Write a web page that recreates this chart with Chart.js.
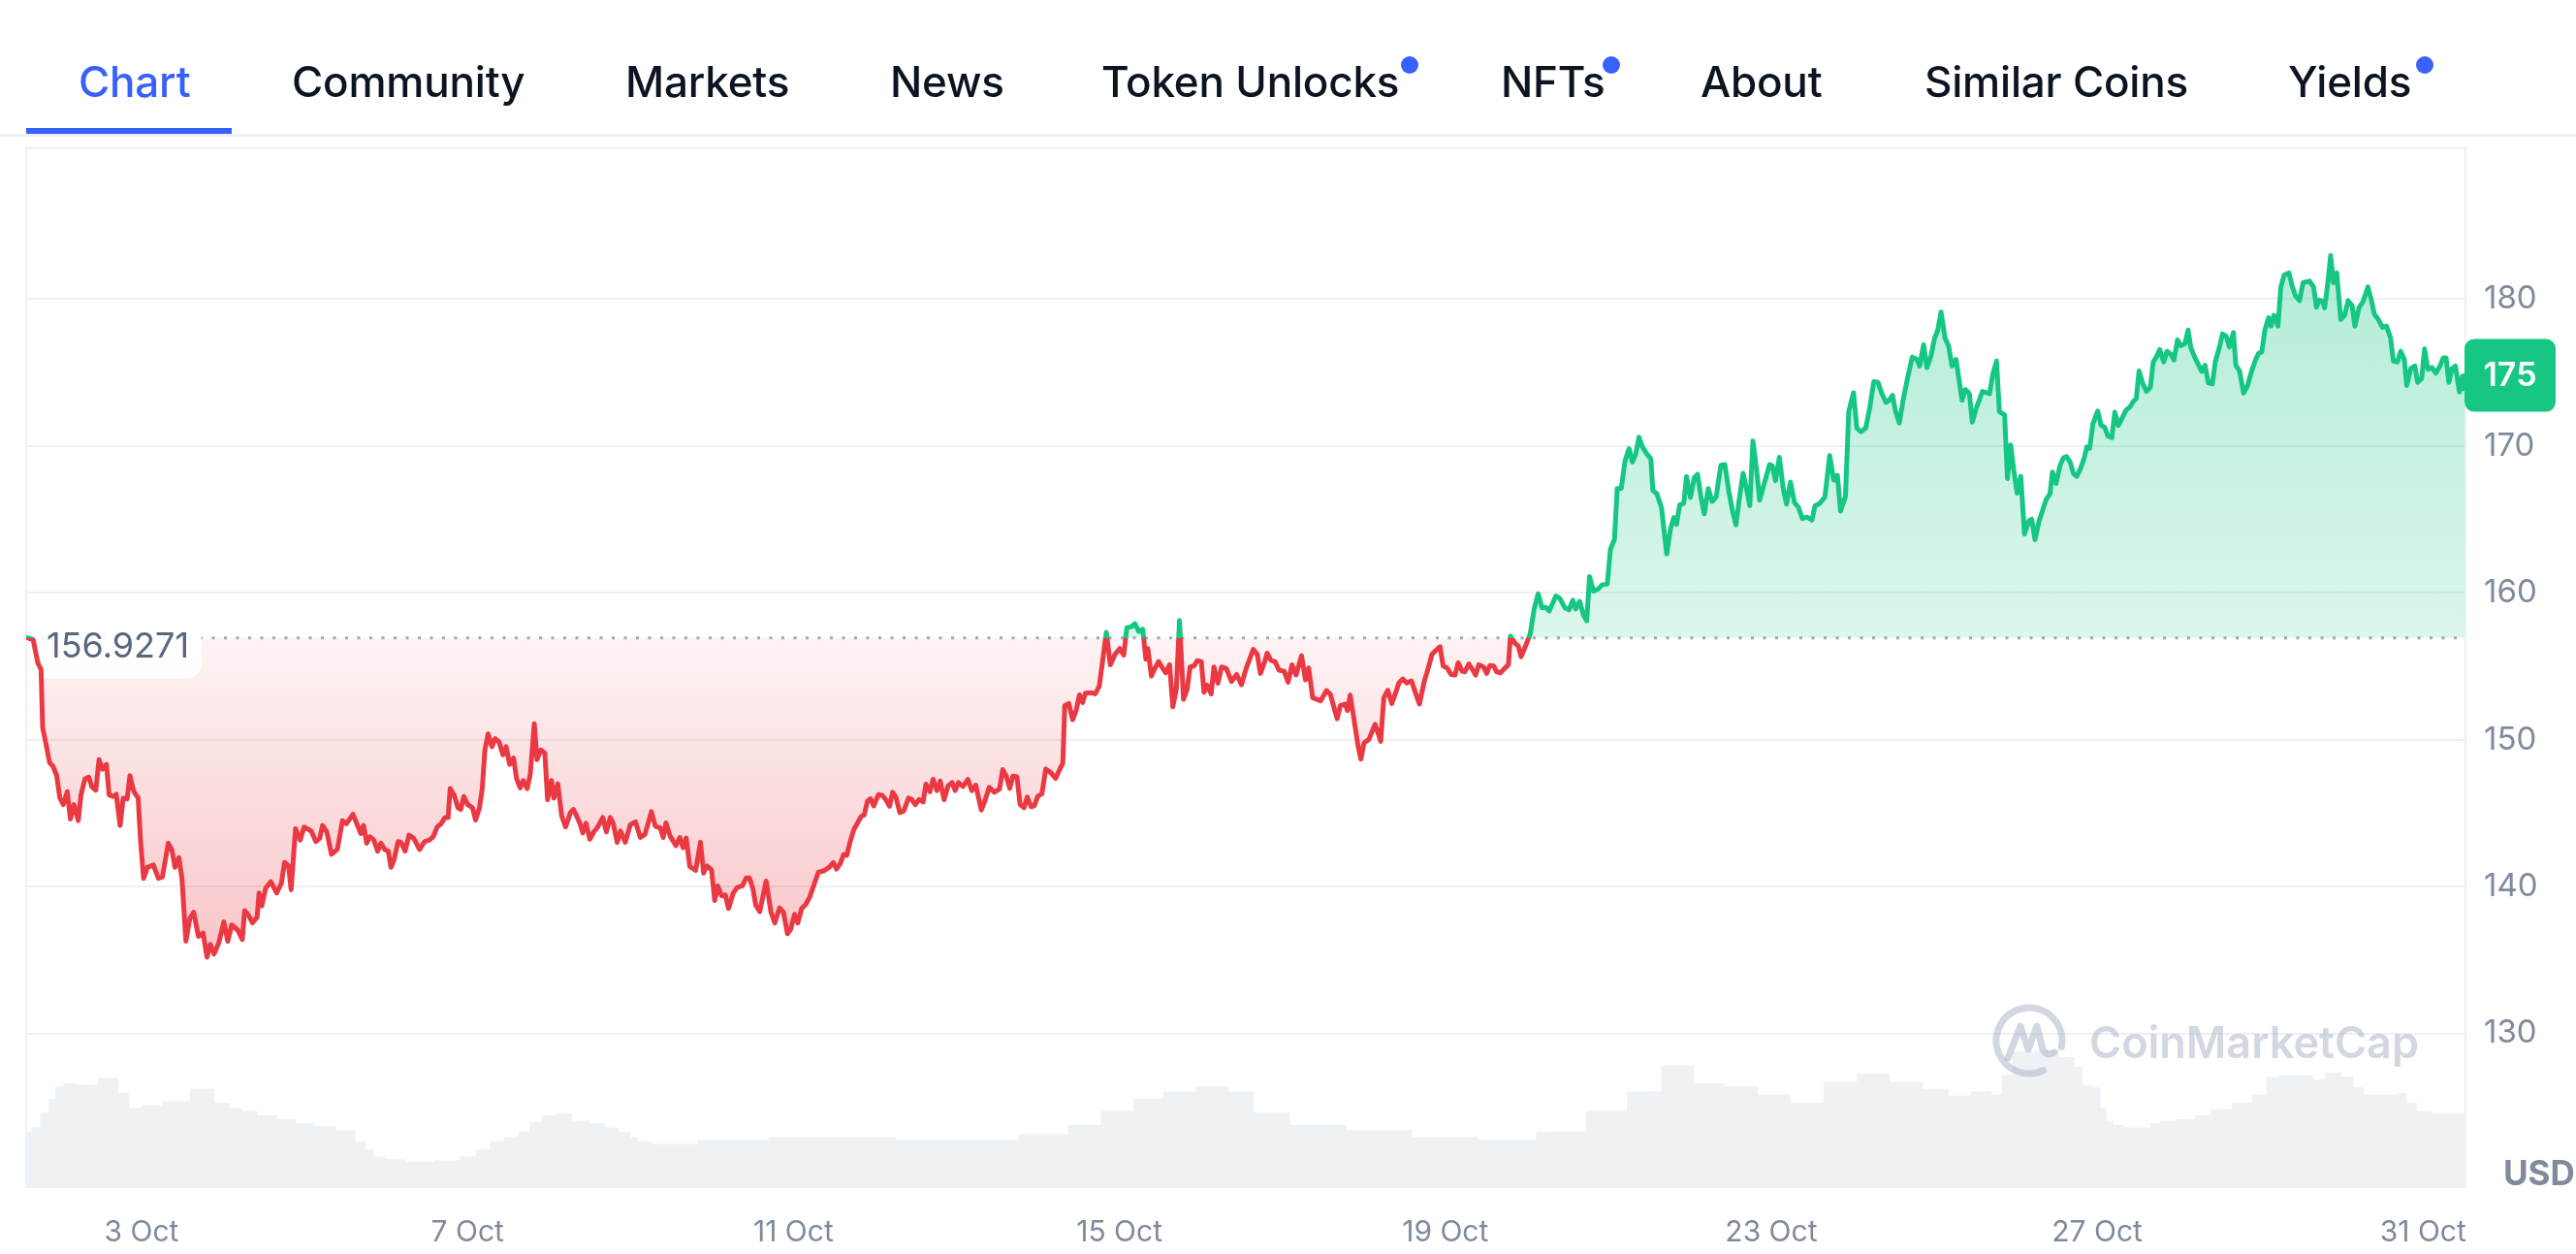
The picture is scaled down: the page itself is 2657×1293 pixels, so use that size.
<!DOCTYPE html>
<html>
<head>
<meta charset="utf-8">
<script src="https://cdn.jsdelivr.net/npm/chart.js@4.4.1/dist/chart.umd.min.js"></script>
<style>
  html, body { margin: 0; padding: 0; background: #fff; }
  body { width: 2657px; height: 1293px; position: relative; overflow: hidden; font-family: Inter, 'Noto Sans', sans-serif; }
  #priceChart { position: absolute; left: 0; top: 0; }
  .tab { position: absolute; top: 62px; font-size: 44px; line-height: 44px; font-weight: 500; color: #0d1421; white-space: nowrap; letter-spacing: -0.2px; }
  .tab.active { color: #3861fb; }
  .dot { position: absolute; top: 58px; width: 18px; height: 18px; border-radius: 50%; background: #3861fb; }
  .underline { position: absolute; left: 27px; top: 132px; width: 212px; height: 6px; background: #3861fb; }
  .tabline { position: absolute; left: 0; top: 138px; width: 2657px; height: 3px; background: #eff2f5; }
</style>
</head>
<body>
<canvas id="priceChart" width="2657" height="1293"></canvas>
<div class="tabline"></div>
<div class="underline"></div>
<span class="tab active" style="left:81px">Chart</span>
<span class="tab" style="left:301px">Community</span>
<span class="tab" style="left:645px">Markets</span>
<span class="tab" style="left:918px">News</span>
<span class="tab" style="left:1136px">Token Unlocks</span>
<span class="dot" style="left:1445px"></span>
<span class="tab" style="left:1548px">NFTs</span>
<span class="dot" style="left:1653px"></span>
<span class="tab" style="left:1754px">About</span>
<span class="tab" style="left:1985px">Similar Coins</span>
<span class="tab" style="left:2360px">Yields</span>
<span class="dot" style="left:2492px"></span>

<script>
// ===== DATA =====
var BASELINE = 156.9271;
var xTickDays = [3, 7, 11, 15, 19, 23, 27, 31];
var yTickValues = [130, 140, 150, 160, 170, 180];

// price line (day of October, USD)
var priceDays = [
  1.600, 1.670, 1.728, 1.767, 1.786, 1.834, 1.872, 1.911, 1.959, 1.997, 2.040, 2.088, 2.127, 2.170, 2.223, 2.257, 2.305, 2.353, 2.391, 2.439,
  2.478, 2.521, 2.569, 2.602, 2.650, 2.689, 2.737, 2.775, 2.823, 2.857, 2.905, 2.958, 2.987, 3.025, 3.073, 3.145, 3.208, 3.256, 3.328, 3.371,
  3.410, 3.458, 3.496, 3.544, 3.592, 3.640, 3.698, 3.755, 3.803, 3.842, 3.890, 3.948, 4.010, 4.058, 4.106, 4.178, 4.236, 4.265, 4.313, 4.361,
  4.418, 4.442, 4.476, 4.524, 4.587, 4.659, 4.716, 4.755, 4.803, 4.836, 4.889, 4.947, 4.995, 5.081, 5.139, 5.187, 5.221, 5.273, 5.331, 5.403,
  5.466, 5.514, 5.595, 5.658, 5.691, 5.725, 5.763, 5.802, 5.850, 5.898, 5.936, 5.984, 6.028, 6.061, 6.100, 6.148, 6.186, 6.234, 6.282, 6.340,
  6.412, 6.474, 6.532, 6.580, 6.628, 6.676, 6.724, 6.763, 6.787, 6.835, 6.883, 6.917, 6.955, 7.003, 7.061, 7.099, 7.147, 7.181, 7.214, 7.253,
  7.301, 7.339, 7.387, 7.435, 7.474, 7.517, 7.565, 7.603, 7.647, 7.685, 7.733, 7.771, 7.820, 7.853, 7.901, 7.949, 7.983, 8.031, 8.060, 8.108,
  8.156, 8.204, 8.262, 8.300, 8.348, 8.382, 8.415, 8.454, 8.502, 8.550, 8.598, 8.660, 8.704, 8.752, 8.790, 8.838,
  8.878, 8.936, 8.999, 9.062, 9.121, 9.179, 9.257, 9.305, 9.364, 9.402, 9.436, 9.485, 9.558, 9.606, 9.645, 9.684, 9.728, 9.800, 9.859, 9.898,
  9.936, 9.995, 10.034, 10.072, 10.116, 10.165, 10.203, 10.262, 10.310, 10.373, 10.422, 10.461, 10.504, 10.538, 10.587, 10.665, 10.723, 10.771, 10.830, 10.878,
  10.927, 10.966, 11.014, 11.053, 11.102, 11.150, 11.199, 11.247, 11.306, 11.378, 11.441, 11.490, 11.529, 11.577, 11.616, 11.655, 11.694, 11.742, 11.791, 11.830,
  11.869, 11.908, 11.946, 11.985, 12.044, 12.092, 12.131, 12.180, 12.218, 12.257, 12.306, 12.354, 12.412, 12.451, 12.495, 12.544, 12.592, 12.626, 12.675, 12.714,
  12.762, 12.801, 12.849, 12.898, 12.947, 12.985, 13.024, 13.082, 13.141, 13.189, 13.238, 13.306, 13.345, 13.403, 13.466, 13.529, 13.568, 13.612, 13.655, 13.694,
  13.743, 13.782, 13.830, 13.869, 13.917, 13.956, 14.000, 14.049, 14.097, 14.160, 14.218, 14.267, 14.306, 14.330, 14.379, 14.427, 14.471, 14.510, 14.549, 14.583,
  14.656, 14.704, 14.753, 14.792, 14.840, 14.889, 14.947, 15.005, 15.054, 15.092, 15.141, 15.190, 15.238, 15.287, 15.325, 15.350, 15.393, 15.432, 15.481, 15.529,
  15.568, 15.617, 15.656, 15.699, 15.738, 15.787, 15.830, 15.869, 15.918, 15.957, 16.005, 16.039, 16.078, 16.127, 16.161, 16.209,
  16.255, 16.313, 16.376, 16.439, 16.498, 16.556, 16.643, 16.692, 16.731, 16.779, 16.813, 16.862, 16.910, 16.959, 17.022, 17.071, 17.119, 17.168, 17.236, 17.284,
  17.323, 17.372, 17.420, 17.469, 17.542, 17.590, 17.639, 17.673, 17.712, 17.770, 17.799, 17.833, 17.881, 17.930, 17.964, 18.003, 18.061, 18.139, 18.207, 18.246,
  18.294, 18.343, 18.391, 18.430, 18.479, 18.527, 18.585, 18.634, 18.683, 18.741, 18.789, 18.838, 18.877, 18.935, 18.974, 19.022, 19.071, 19.119, 19.158, 19.207,
  19.241, 19.289, 19.338, 19.372, 19.411, 19.469, 19.508, 19.547, 19.595, 19.629, 19.678, 19.726, 19.775, 19.799, 19.857, 19.896, 19.930, 19.984, 20.042, 20.091,
  20.139, 20.188, 20.236, 20.275, 20.357, 20.406, 20.469, 20.518, 20.566, 20.600, 20.649, 20.697, 20.736, 20.770, 20.819, 20.877, 20.926, 20.988, 21.027, 21.076,
  21.110, 21.159, 21.207, 21.256, 21.295, 21.334, 21.377, 21.416, 21.474, 21.523, 21.547, 21.596, 21.654, 21.717, 21.766, 21.804, 21.838, 21.877, 21.926, 21.960,
  22.008, 22.057, 22.096, 22.139, 22.178, 22.227, 22.275, 22.324, 22.382, 22.431, 22.479, 22.528, 22.567, 22.605, 22.654, 22.703, 22.737, 22.775, 22.819, 22.858,
  22.916, 22.979, 23.013, 23.052, 23.100, 23.149, 23.188, 23.236, 23.285, 23.334, 23.382, 23.440, 23.499, 23.538, 23.596, 23.659, 23.717, 23.766,
  23.792, 23.812, 23.851, 23.911, 23.951, 24.010, 24.050, 24.100, 24.160, 24.209, 24.259, 24.309, 24.358, 24.408, 24.448, 24.488, 24.522, 24.572, 24.622, 24.671,
  24.731, 24.786, 24.821, 24.870, 24.910, 24.960, 25.004, 25.044, 25.084, 25.134, 25.178, 25.218, 25.268, 25.303, 25.342, 25.382, 25.432, 25.467, 25.516, 25.591,
  25.641, 25.680, 25.720, 25.765, 25.800, 25.864, 25.899, 25.939, 25.979, 26.018, 26.063, 26.108, 26.162, 26.197, 26.237, 26.287, 26.336, 26.376, 26.421, 26.451,
  26.495, 26.545, 26.585, 26.625, 26.669, 26.709, 26.749, 26.799, 26.843, 26.873, 26.908, 26.948, 27.007, 27.047, 27.092, 27.132, 27.181, 27.216, 27.261, 27.306,
  27.355, 27.405, 27.445, 27.480, 27.514, 27.554, 27.604, 27.653, 27.688, 27.728, 27.768, 27.817, 27.857, 27.907, 27.942, 27.986, 28.026, 28.076, 28.116, 28.150,
  28.200, 28.250, 28.285, 28.324, 28.364, 28.414, 28.449, 28.498, 28.538, 28.583, 28.623, 28.672, 28.702, 28.747, 28.797, 28.846, 28.896, 28.946, 28.980, 29.020,
  29.060, 29.105, 29.134, 29.169, 29.219, 29.254, 29.294, 29.353, 29.393, 29.433, 29.483, 29.527, 29.577, 29.607, 29.656, 29.691, 29.726, 29.766, 29.791, 29.825,
  29.865, 29.900, 29.940, 29.990, 30.039, 30.079, 30.129, 30.163, 30.213, 30.263, 30.322, 30.362, 30.402, 30.452, 30.501, 30.551, 30.601, 30.635, 30.685, 30.725,
  30.770, 30.799, 30.849, 30.899, 30.934, 30.983, 31.018, 31.058, 31.108, 31.157, 31.207, 31.247, 31.282, 31.316, 31.356, 31.396, 31.446, 31.480, 31.497, 31.515
];
var priceValues = [
  156.93, 156.80, 155.21, 154.77, 150.83, 149.52, 148.42, 148.21, 147.55, 146.02, 145.58, 146.46, 144.60, 145.58, 144.49, 146.24, 147.33, 147.44, 146.78, 146.56,
  148.64, 147.99, 148.32, 146.24, 146.13, 146.28, 144.16, 146.02, 145.97, 147.55, 146.46, 146.02, 143.17, 140.55, 141.31, 141.47, 140.55, 140.66, 142.95, 142.52,
  141.31, 141.97, 140.55, 136.28, 137.81, 138.25, 136.61, 136.83, 135.19, 136.06, 135.41, 136.17, 137.59, 136.28, 137.38, 137.05, 136.39, 138.36, 138.03, 137.53,
  137.92, 139.56, 138.69, 139.89, 140.33, 139.56, 140.22, 141.64, 141.42, 139.78, 143.94, 143.17, 144.05, 143.79, 143.06, 143.28, 144.16, 143.72, 142.19, 142.52,
  144.49, 144.27, 144.92, 144.05, 143.61, 144.16, 142.95, 143.39, 143.17, 142.41, 142.95, 142.52, 142.41, 141.31, 141.86, 143.06, 143.00, 142.41, 143.50, 143.28,
  142.52, 143.06, 143.17, 143.39, 144.05, 144.27, 144.70, 144.70, 146.67, 146.24, 145.36, 145.25, 146.13, 145.58, 145.36, 144.53, 145.36, 146.67, 149.30, 150.39,
  149.52, 150.07, 149.85, 148.97, 149.52, 148.32, 148.75, 147.33, 146.72, 147.22, 146.67, 147.66, 151.09, 148.64, 149.30, 149.08, 145.91, 147.22, 146.02, 147.00,
  144.81, 144.05, 145.03, 145.25, 144.70, 144.27, 143.65, 144.31, 143.22, 143.72, 144.05, 144.70, 143.72, 144.70, 144.27, 143.00,
  143.78, 143.01, 144.22, 144.40, 143.34, 143.56, 145.10, 144.11, 144.00, 143.34, 144.33, 143.45, 142.79, 143.34, 142.64, 143.30, 141.36, 141.10, 143.01, 140.92,
  141.41, 141.14, 139.05, 140.04, 139.38, 139.43, 138.51, 139.56, 139.93, 140.04, 140.59, 140.59, 139.82, 138.73, 138.29, 140.37, 138.29, 137.52, 138.55, 138.24,
  136.79, 137.08, 138.11, 137.52, 138.51, 138.77, 139.27, 140.04, 140.97, 141.08, 141.32, 141.63, 141.19, 141.58, 142.18, 142.13, 143.01, 143.89, 144.37, 144.77,
  144.88, 145.82, 145.98, 145.49, 146.26, 146.20, 145.93, 145.47, 146.42, 146.09, 145.03, 145.14, 146.02, 145.93, 145.58, 145.93, 145.76, 146.97, 146.46, 147.30,
  146.53, 147.19, 145.91, 146.86, 147.08, 146.53, 147.08, 146.81, 147.30, 146.53, 146.90, 145.21, 145.76, 146.75, 146.42, 146.64, 147.96, 147.52, 146.68, 147.52,
  147.47, 145.58, 145.36, 146.09, 145.43, 145.49, 146.15, 146.31, 148.00, 147.74, 147.36, 147.96, 148.40, 152.31, 152.46, 151.36, 152.02, 153.05, 152.53, 153.16,
  153.19, 153.12, 153.63, 155.25, 157.30, 155.10, 155.82, 156.20, 155.76, 157.63, 157.67, 157.89, 157.36, 157.52, 155.47, 156.20, 154.33, 154.81, 155.32, 154.88,
  154.55, 155.10, 152.24, 153.45, 158.11, 152.75, 153.38, 154.95, 155.03, 155.38, 155.32, 153.23, 153.71, 153.12, 154.95, 153.85,
  154.95, 154.84, 153.96, 154.44, 153.74, 154.84, 156.15, 155.82, 154.51, 155.23, 155.89, 155.38, 155.32, 154.73, 154.66, 153.91, 155.10, 154.40, 155.71, 154.07,
  154.88, 152.86, 152.75, 152.64, 153.34, 153.08, 152.09, 151.43, 152.31, 152.42, 151.98, 153.03, 151.32, 149.56, 148.68, 149.78, 150.00, 151.05, 149.89, 152.86,
  153.36, 152.46, 153.19, 153.85, 154.13, 153.85, 154.00, 153.19, 152.42, 153.96, 154.84, 155.82, 156.04, 156.33, 155.01, 154.88, 154.44, 154.40, 155.23, 154.66,
  154.62, 155.16, 154.73, 154.40, 155.10, 154.95, 154.51, 155.05, 155.01, 154.62, 154.55, 154.84, 155.10, 157.05, 156.55, 156.37, 155.65, 156.37, 157.19, 158.90,
  159.93, 158.97, 159.01, 158.75, 159.78, 159.63, 158.97, 158.84, 159.49, 158.90, 159.41, 158.46, 158.09, 161.10, 160.11, 160.26, 160.55, 160.59, 162.97, 163.63,
  167.10, 167.10, 169.01, 169.82, 168.90, 169.38, 170.59, 169.96, 169.45, 169.12, 166.97, 166.75, 165.78, 162.64, 164.40, 165.12, 164.66, 165.98, 166.09, 167.91,
  166.48, 167.85, 168.07, 166.48, 165.38, 167.10, 166.22, 166.53, 168.68, 168.73, 166.92, 165.49, 164.62, 166.26, 168.13, 166.92, 165.93, 170.33, 168.46, 166.31,
  167.47, 168.73, 168.64, 167.63, 169.23, 167.03, 166.04, 167.54, 166.15, 165.82, 165.05, 165.16, 164.95, 165.93, 166.09, 166.53, 169.34, 167.69,
  167.67, 168.00, 165.56, 166.56, 172.33, 173.62, 171.22, 170.96, 171.22, 172.60, 174.38, 174.33, 173.56, 172.96, 173.11, 173.44, 172.44, 171.56, 173.22, 174.56,
  176.04, 175.89, 175.44, 176.89, 175.33, 176.11, 177.33, 177.89, 179.11, 177.33, 176.78, 175.44, 175.89, 174.56, 173.11, 173.84, 173.56, 171.62, 172.56, 173.71,
  173.62, 173.56, 174.89, 175.78, 172.33, 172.11, 167.78, 170.07, 168.22, 166.78, 167.93, 164.00, 164.89, 165.00, 163.62, 164.89, 165.71, 166.38, 166.73, 168.22,
  167.44, 168.67, 169.18, 169.27, 168.89, 168.11, 167.93, 168.51, 169.22, 169.93, 169.84, 171.49, 172.38, 171.40, 171.27, 170.67, 170.56, 172.29, 171.40, 171.89,
  172.44, 172.67, 173.04, 173.22, 175.11, 174.33, 173.71, 174.00, 175.71, 176.07, 176.56, 175.71, 176.44, 176.22, 175.84, 177.22, 176.82, 176.96, 177.89, 176.67,
  176.00, 175.44, 175.07, 175.49, 174.29, 174.22, 175.71, 176.67, 177.62, 177.49, 176.73, 177.71, 175.49, 175.11, 173.60, 174.11, 175.11, 175.89, 176.29, 176.40,
  177.93, 178.73, 178.16, 178.89, 178.16, 180.82, 181.62, 181.78, 180.89, 180.22, 179.89, 181.11, 181.18, 181.22, 180.82, 179.44, 179.93, 179.84, 179.40, 180.82,
  182.96, 181.11, 181.78, 178.60, 178.93, 179.89, 179.56, 178.16, 179.40, 179.82, 180.82, 180.00, 178.96, 178.60, 178.07, 178.16, 177.33, 175.78, 175.71, 176.44,
  175.89, 174.11, 175.27, 175.44, 174.33, 174.60, 176.60, 175.22, 175.33, 174.96, 175.44, 176.00, 176.00, 174.33, 175.27, 175.44, 173.67, 174.73, 173.90, 174.80
];

// volume (relative height, 100 = tallest)
var volDays = [
  1.59, 1.70, 1.81, 1.90, 1.98, 2.10, 2.30, 2.63, 2.80, 2.90, 3.10, 3.40, 3.79, 4.00, 4.15, 4.30, 4.54, 4.80, 5.00, 5.22,
  5.55, 5.70, 5.80, 5.90, 6.10, 6.38, 6.80, 7.00, 7.20, 7.35, 7.55, 7.70, 7.82, 8.00, 8.16, 8.40, 8.60, 8.77, 8.95, 9.05,
  9.12, 9.39, 9.70, 9.94, 10.50, 10.89, 11.97, 12.55, 13.36, 14.17, 14.57, 14.97, 15.38, 15.70, 16.18, 16.50, 16.79, 17.40, 18.19, 19.00,
  19.81, 20.42, 21.03, 21.43, 21.87, 22.23, 22.63, 23.04, 23.44, 23.85, 24.25, 24.66, 25.06, 25.30, 25.60, 25.80, 25.86, 26.06, 26.40, 26.66,
  26.78, 26.86, 27.00, 27.08, 27.16, 27.25, 27.40, 27.60, 27.70, 27.85, 28.10, 28.30, 28.50, 28.80, 29.00, 29.15, 29.30, 29.60, 29.70, 29.90,
  30.10, 30.20, 30.35, 30.60, 30.75, 30.85, 31.00, 31.20, 31.52
];
var volValues = [
  41, 44, 55, 65, 74, 76, 75, 80, 69, 58, 60, 63, 72, 62, 58, 56, 53, 50, 47, 45,
  42, 34, 28, 23, 21, 19, 20, 23, 28, 34, 37, 41, 48, 53, 54, 49, 47, 44, 41, 37,
  34, 32, 32, 35, 35, 37, 37, 35, 35, 39, 46, 56, 65, 70, 74, 70, 55, 46, 42, 37,
  35, 41, 56, 70, 89, 76, 74, 68, 62, 77, 83, 77, 72, 67, 70, 68, 82, 99, 100, 95,
  88, 75, 73, 58, 49, 46, 44, 44, 47, 49, 50, 53, 57, 62, 68, 81, 82, 82, 79, 84,
  81, 73, 68, 68, 69, 62, 56, 54, 54
];

// ===== STYLE =====
var RED = '#ea3943';
var GREEN = '#16c784';
var AXIS_GREY = '#808a9d';
var X_MIN = 1.584, X_MAX = 31.52;
var Y_MIN = 119.47, Y_MAX = 190.29;
var VOL_MAX = 755;

function lineColor(ctx) {
  var chart = ctx.chart;
  var a = chart.chartArea;
  if (!a || !chart.scales.y) return RED;
  var yb = chart.scales.y.getPixelForValue(BASELINE);
  var f = Math.min(1, Math.max(0, (yb - a.top) / (a.bottom - a.top)));
  var g = chart.ctx.createLinearGradient(0, a.top, 0, a.bottom);
  g.addColorStop(0, GREEN);
  g.addColorStop(f, GREEN);
  g.addColorStop(f, RED);
  g.addColorStop(1, RED);
  return g;
}

function areaFill(ctx) {
  var chart = ctx.chart;
  var a = chart.chartArea;
  if (!a || !chart.scales.y) {
    return { value: BASELINE, above: 'rgba(22,199,132,0.22)', below: 'rgba(234,57,67,0.15)' };
  }
  var y = chart.scales.y;
  var yb = y.getPixelForValue(BASELINE);
  var up = chart.ctx.createLinearGradient(0, y.getPixelForValue(184), 0, yb);
  up.addColorStop(0, 'rgba(22,199,132,0.34)');
  up.addColorStop(1, 'rgba(22,199,132,0.15)');
  var dn = chart.ctx.createLinearGradient(0, yb, 0, y.getPixelForValue(134));
  dn.addColorStop(0, 'rgba(234,57,67,0.06)');
  dn.addColorStop(1, 'rgba(234,57,67,0.30)');
  return { value: BASELINE, above: up, below: dn };
}

// ===== PLUGIN: frame, baseline, badge, watermark =====
var decor = {
  id: 'decor',
  beforeDatasetsDraw: function(chart) {
    var ctx = chart.ctx, a = chart.chartArea;
    ctx.save();
    ctx.strokeStyle = '#eff2f5';
    ctx.lineWidth = 2.5;
    ctx.beginPath();
    ctx.moveTo(a.left, a.bottom);
    ctx.lineTo(a.left, a.top);
    ctx.lineTo(a.right, a.top);
    ctx.lineTo(a.right, a.bottom);
    ctx.stroke();
    ctx.restore();
  },
  beforeDatasetDraw: function(chart, args) {
    if (args.index !== 0) return;
    var ctx = chart.ctx, a = chart.chartArea;
    var yb = chart.scales.y.getPixelForValue(BASELINE);
    ctx.save();
    ctx.setLineDash([3, 9.5]);
    ctx.lineWidth = 3;
    ctx.strokeStyle = '#a1a7b3';
    ctx.beginPath();
    ctx.moveTo(a.left + 4, yb);
    ctx.lineTo(a.right - 6, yb);
    ctx.stroke();
    ctx.setLineDash([]);
    ctx.fillStyle = 'rgba(255,255,255,0.9)';
    ctx.beginPath();
    ctx.roundRect(a.left + 9, yb - 15, 172, 57, 16);
    ctx.fill();
    ctx.font = '400 36px Inter';
    ctx.fillStyle = '#58667e';
    ctx.textBaseline = 'alphabetic';
    ctx.textAlign = 'left';
    ctx.fillText(BASELINE.toFixed(4), a.left + 21, yb + 20);
    ctx.restore();
  },
  afterDatasetsDraw: function(chart) {
    var ctx = chart.ctx, a = chart.chartArea;
    var cx = a.right - 450, cy = a.bottom - 152;
    ctx.save();
    ctx.strokeStyle = 'rgba(166,176,196,0.5)';
    ctx.fillStyle = 'rgba(166,176,196,0.5)';
    ctx.lineWidth = 7;
    ctx.lineCap = 'round';
    ctx.lineJoin = 'round';
    ctx.beginPath();
    ctx.arc(cx, cy, 34, 0.36 * Math.PI, 2.06 * Math.PI);
    ctx.stroke();
    ctx.beginPath();
    ctx.moveTo(cx - 22, cy + 18);
    ctx.lineTo(cx - 9, cy - 15);
    ctx.lineTo(cx - 1, cy + 9);
    ctx.lineTo(cx + 8, cy - 15);
    ctx.lineTo(cx + 14, cy + 9);
    ctx.quadraticCurveTo(cx + 18, cy + 17, cx + 26, cy + 12);
    ctx.stroke();
    ctx.font = '600 45px Inter';
    ctx.textBaseline = 'alphabetic';
    ctx.textAlign = 'left';
    ctx.fillText('CoinMarketCap', a.right - 388, a.bottom - 134);
    ctx.restore();
  },
  afterDraw: function(chart) {
    var ctx = chart.ctx, a = chart.chartArea;
    var last = priceValues[priceValues.length - 1];
    var yl = chart.scales.y.getPixelForValue(last);
    ctx.save();
    ctx.fillStyle = last >= BASELINE ? GREEN : RED;
    ctx.beginPath();
    ctx.roundRect(a.right - 1, yl - 37.5, 94, 75, 10);
    ctx.fill();
    ctx.fillStyle = '#fff';
    ctx.font = '600 34px Inter';
    ctx.textAlign = 'center';
    ctx.textBaseline = 'middle';
    ctx.fillText(String(Math.round(last)), a.right + 46, yl + 1);
    ctx.fillStyle = AXIS_GREY;
    ctx.font = '700 35px Inter';
    ctx.textAlign = 'left';
    ctx.fillText('USD', a.right + 39, a.bottom - 14);
    ctx.restore();
  }
};

// ===== CHART =====
var pricePoints = priceDays.map(function(d, i) { return { x: d, y: priceValues[i] }; });
var volPoints = volDays.map(function(d, i) { return { x: d, y: volValues[i] }; });

new Chart(document.getElementById('priceChart'), {
  type: 'line',
  data: {
    datasets: [{
      label: 'Price',
      data: pricePoints,
      yAxisID: 'y',
      borderColor: lineColor,
      borderWidth: 5,
      borderJoinStyle: 'round',
      borderCapStyle: 'round',
      pointRadius: 0,
      tension: 0,
      fill: areaFill
    }, {
      label: 'Volume',
      data: volPoints,
      yAxisID: 'y2',
      stepped: 'middle',
      borderWidth: 0,
      pointRadius: 0,
      backgroundColor: '#eff2f5',
      fill: 'origin'
    }]
  },
  options: {
    responsive: false,
    animation: false,
    devicePixelRatio: 1,
    layout: { padding: { left: 27, top: 152.5, right: 0, bottom: 0 } },
    plugins: {
      legend: { display: false },
      tooltip: { enabled: false }
    },
    scales: {
      x: {
        type: 'linear',
        min: X_MIN,
        max: X_MAX,
        afterBuildTicks: function(axis) {
          axis.ticks = xTickDays.map(function(v) { return { value: v }; });
        },
        afterFit: function(axis) { axis.height = 68; },
        ticks: {
          autoSkip: false,
          maxRotation: 0,
          padding: 28,
          color: AXIS_GREY,
          font: { family: 'Inter', size: 30 },
          callback: function(v) { return v + ' Oct'; }
        },
        grid: { display: false, drawTicks: false },
        border: { display: false }
      },
      y: {
        position: 'right',
        min: Y_MIN,
        max: Y_MAX,
        afterBuildTicks: function(axis) {
          axis.ticks = yTickValues.map(function(v) { return { value: v }; });
        },
        afterFit: function(axis) { axis.width = 114; },
        ticks: {
          padding: 19,
          color: AXIS_GREY,
          font: { family: 'Inter', size: 33 },
          callback: function(v) { return String(v); }
        },
        grid: { color: '#eef0f3', lineWidth: 2, drawTicks: false },
        border: { display: false }
      },
      y2: {
        display: false,
        min: 0,
        max: VOL_MAX
      }
    }
  },
  plugins: [decor]
});
</script>
</body>
</html>
